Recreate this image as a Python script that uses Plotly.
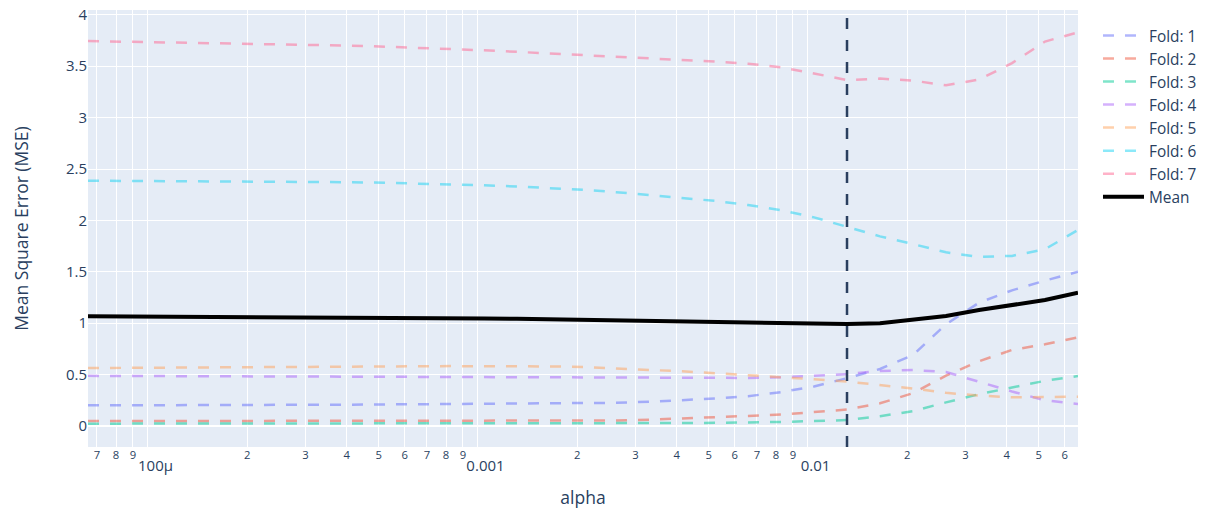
import plotly.graph_objects as go

# alpha grid (x values)
alphas = [6.58e-05, 8.28e-05, 1.043e-04, 1.313e-04, 1.653e-04, 2.081e-04, 2.620e-04,
          3.298e-04, 4.152e-04, 5.227e-04, 6.58e-04, 8.28e-04, 1.043e-03, 1.313e-03,
          1.653e-03, 2.081e-03, 2.620e-03, 3.298e-03, 4.152e-03, 5.227e-03, 6.58e-03,
          8.28e-03, 1.043e-02, 1.313e-02, 1.653e-02, 2.081e-02, 2.620e-02, 3.298e-02,
          4.152e-02, 5.227e-02, 6.58e-02]

fold_1 = [0.201, 0.201, 0.202, 0.202, 0.203, 0.204, 0.205, 0.206, 0.208, 0.210, 0.212,
          0.214, 0.216, 0.218, 0.220, 0.222, 0.226, 0.236, 0.250, 0.268, 0.290, 0.330,
          0.385, 0.465, 0.555, 0.690, 0.990, 1.200, 1.320, 1.415, 1.500]
fold_2 = [0.048, 0.048, 0.048, 0.048, 0.048, 0.048, 0.048, 0.048, 0.048, 0.048, 0.048,
          0.048, 0.048, 0.048, 0.049, 0.050, 0.054, 0.062, 0.072, 0.085, 0.098, 0.112,
          0.135, 0.160, 0.221, 0.320, 0.490, 0.630, 0.740, 0.795, 0.863]
fold_3 = [0.023, 0.023, 0.023, 0.023, 0.023, 0.024, 0.024, 0.024, 0.024, 0.025, 0.025,
          0.025, 0.025, 0.025, 0.026, 0.026, 0.027, 0.028, 0.029, 0.031, 0.034, 0.040,
          0.048, 0.058, 0.095, 0.145, 0.230, 0.310, 0.375, 0.440, 0.486]
fold_4 = [0.488, 0.487, 0.486, 0.485, 0.484, 0.483, 0.482, 0.481, 0.480, 0.479, 0.478,
          0.477, 0.476, 0.475, 0.474, 0.473, 0.471, 0.468, 0.465, 0.466, 0.468, 0.474,
          0.488, 0.505, 0.535, 0.545, 0.525, 0.430, 0.336, 0.250, 0.214]
fold_5 = [0.564, 0.565, 0.566, 0.567, 0.568, 0.569, 0.570, 0.572, 0.575, 0.578, 0.581,
          0.583, 0.584, 0.583, 0.580, 0.574, 0.562, 0.548, 0.532, 0.514, 0.496, 0.475,
          0.455, 0.432, 0.400, 0.365, 0.323, 0.296, 0.279, 0.280, 0.285]
fold_6 = [2.386, 2.385, 2.384, 2.383, 2.382, 2.380, 2.378, 2.376, 2.372, 2.366, 2.360,
          2.350, 2.342, 2.330, 2.315, 2.298, 2.275, 2.245, 2.220, 2.190, 2.150, 2.100,
          2.030, 1.935, 1.845, 1.770, 1.690, 1.645, 1.655, 1.720, 1.907]
fold_7 = [3.745, 3.740, 3.735, 3.730, 3.725, 3.720, 3.715, 3.710, 3.700, 3.690, 3.680,
          3.670, 3.655, 3.640, 3.625, 3.610, 3.595, 3.575, 3.560, 3.545, 3.525, 3.490,
          3.430, 3.365, 3.380, 3.360, 3.315, 3.370, 3.530, 3.740, 3.830]
mean_mse = [1.068, 1.067, 1.066, 1.065, 1.064, 1.063, 1.062, 1.061, 1.060, 1.058, 1.055,
            1.051, 1.047, 1.043, 1.038, 1.032, 1.027, 1.022, 1.016, 1.010, 1.005, 1.000,
            0.996, 0.992, 0.999, 1.034, 1.070, 1.128, 1.177, 1.226, 1.297]

fold_names = ["Fold: 1", "Fold: 2", "Fold: 3", "Fold: 4", "Fold: 5", "Fold: 6", "Fold: 7"]
fold_colors = ["#636EFA", "#EF553B", "#00CC96", "#AB63FA", "#FFA15A", "#19D3F3", "#FF6692"]
best_alpha = 0.01313

folds = [fold_1, fold_2, fold_3, fold_4, fold_5, fold_6, fold_7]

fig = go.Figure()
for name, color, vals in zip(fold_names, fold_colors, folds):
    fig.add_trace(go.Scatter(
        x=alphas, y=vals, mode="lines", name=name, opacity=0.5,
        line=dict(color=color, width=2.5, dash="11px,11px"),
    ))
fig.add_trace(go.Scatter(
    x=alphas, y=mean_mse, mode="lines", name="Mean",
    line=dict(color="black", width=4),
))
fig.add_vline(x=best_alpha, line=dict(color="#2a3f5f", width=2.5, dash="11px,11px"))

fig.update_layout(
    template="plotly",
    width=1205, height=510,
    margin=dict(l=88, r=127, t=10, b=63),
    font=dict(family="Open Sans, verdana, arial, sans-serif", size=15, color="#2a3f5f"),
    legend=dict(font=dict(size=15.4), itemwidth=41,
                xref="container", yref="container",
                x=0.9112, xanchor="left", y=0.9627, yanchor="top"),
    xaxis=dict(type="log", automargin=False,
               title=dict(text="alpha", font=dict(size=17.5), standoff=18),
               tickfont=dict(size=15)),
    yaxis=dict(automargin=False,
               title=dict(text="Mean Square Error (MSE)", font=dict(size=17.5), standoff=32),
               range=[-0.204, 4.047], dtick=0.5, tickfont=dict(size=15)),
)

fig.write_html(
    "out.html",
    config={"displayModeBar": False},
    post_script="document.body.style.margin='0';document.body.style.overflow='hidden';",
)
